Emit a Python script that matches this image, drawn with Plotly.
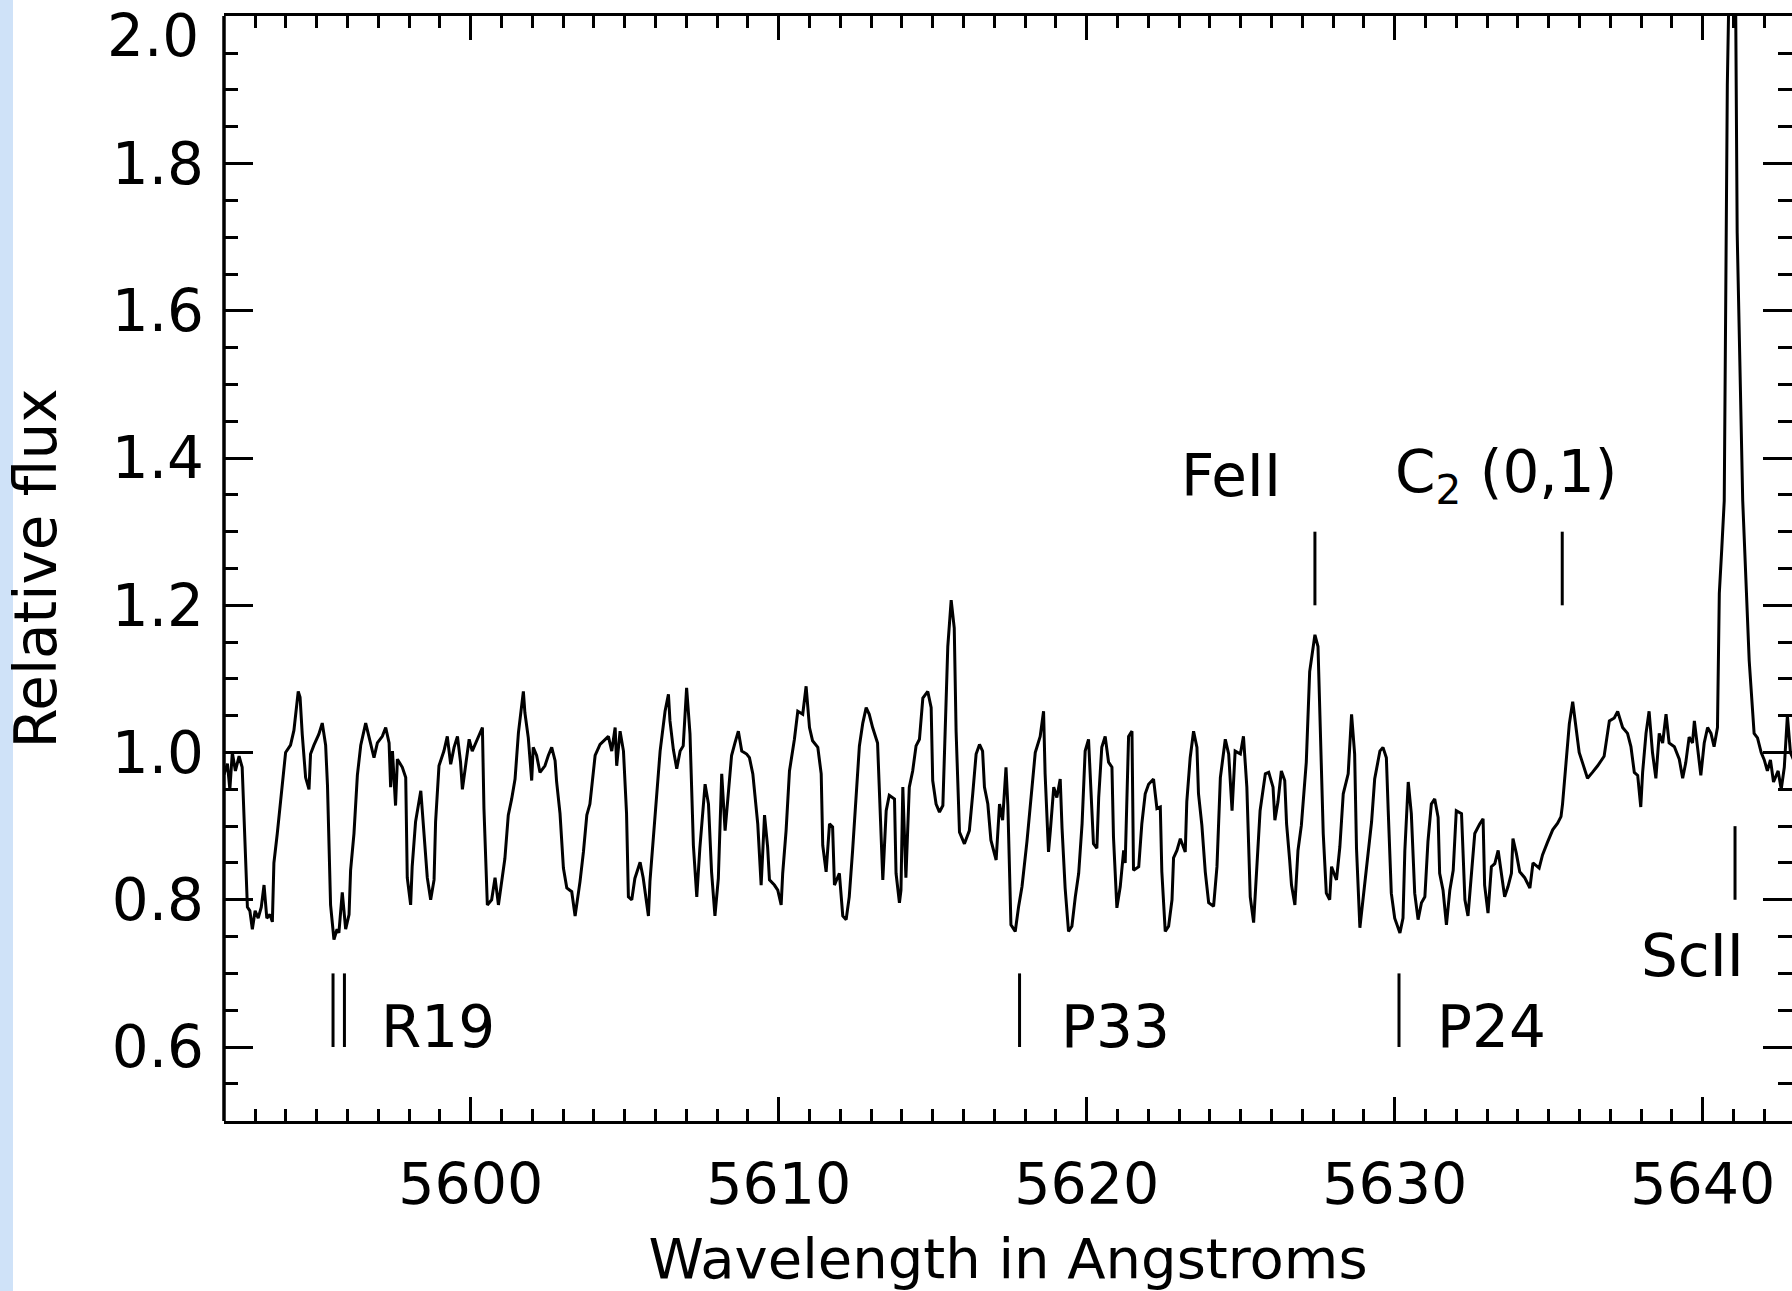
import plotly.graph_objects as go

# ---------------- data ----------------
wavelength = [
    5591.99, 5592.10, 5592.18, 5592.26, 5592.36, 5592.48, 5592.58, 5592.64, 5592.75, 5592.83,
    5592.91, 5593.00, 5593.10, 5593.20, 5593.29, 5593.38, 5593.48, 5593.56, 5593.61, 5593.72,
    5593.88, 5593.99, 5594.15, 5594.26, 5594.40, 5594.46, 5594.53, 5594.64, 5594.75, 5594.80,
    5594.91, 5595.07, 5595.18, 5595.29, 5595.35, 5595.45, 5595.56, 5595.66, 5595.72, 5595.83,
    5595.94, 5596.05, 5596.10, 5596.21, 5596.32, 5596.43, 5596.59, 5596.70, 5596.86, 5596.97,
    5597.13, 5597.24, 5597.35, 5597.40, 5597.46, 5597.56, 5597.62, 5597.78, 5597.89, 5597.94,
    5598.05, 5598.10, 5598.21, 5598.38, 5598.48, 5598.59, 5598.70, 5598.81, 5598.86, 5598.97,
    5599.13, 5599.24, 5599.35, 5599.46, 5599.57, 5599.67, 5599.73, 5599.84, 5599.95, 5600.05,
    5600.22, 5600.38, 5600.43, 5600.54,
    5600.68, 5600.79, 5600.90, 5601.06, 5601.11, 5601.22, 5601.33, 5601.44, 5601.55, 5601.71,
    5601.76, 5601.87, 5601.98, 5602.03, 5602.14, 5602.25, 5602.41, 5602.52, 5602.63, 5602.74,
    5602.79, 5602.90, 5603.01, 5603.12, 5603.28, 5603.39, 5603.55, 5603.66, 5603.77, 5603.87,
    5604.04, 5604.20, 5604.31, 5604.47, 5604.58, 5604.69, 5604.74, 5604.85, 5604.96, 5605.06,
    5605.12, 5605.23, 5605.33, 5605.50, 5605.60, 5605.71, 5605.77, 5605.82, 5605.93, 5606.04,
    5606.15, 5606.31, 5606.42, 5606.47, 5606.58, 5606.69, 5606.80, 5606.90, 5607.01, 5607.12,
    5607.23, 5607.34, 5607.44, 5607.61, 5607.72, 5607.82, 5607.93, 5608.04, 5608.15, 5608.26,
    5608.37, 5608.47, 5608.58, 5608.69, 5608.80, 5608.96,
    5609.05, 5609.16, 5609.32, 5609.43, 5609.54, 5609.64, 5609.70, 5609.86, 5609.97, 5610.08,
    5610.13, 5610.24, 5610.35, 5610.51, 5610.62, 5610.78, 5610.89, 5611.00, 5611.10, 5611.27,
    5611.38, 5611.43, 5611.54, 5611.65, 5611.75, 5611.81, 5611.97, 5612.08, 5612.19, 5612.29,
    5612.40, 5612.51, 5612.62, 5612.73, 5612.84, 5612.94, 5613.05, 5613.21, 5613.27, 5613.38,
    5613.49, 5613.59, 5613.76, 5613.81, 5613.92, 5613.97, 5614.03, 5614.13, 5614.24, 5614.35,
    5614.46, 5614.57, 5614.68, 5614.84, 5614.95, 5615.00, 5615.11, 5615.22, 5615.33, 5615.38,
    5615.49, 5615.60, 5615.70, 5615.76, 5615.87, 5616.03, 5616.19, 5616.30, 5616.41, 5616.52,
    5616.62, 5616.68, 5616.79, 5616.89, 5617.06, 5617.17, 5617.27, 5617.38, 5617.44, 5617.54,
    5617.68, 5617.79, 5617.90, 5618.06, 5618.22, 5618.33, 5618.49, 5618.60, 5618.65, 5618.76,
    5618.82, 5618.93, 5619.03, 5619.14, 5619.20, 5619.30, 5619.41, 5619.52, 5619.63, 5619.74,
    5619.85, 5619.95, 5620.06, 5620.12, 5620.22, 5620.33, 5620.39, 5620.49, 5620.60, 5620.71,
    5620.82, 5620.87, 5620.98, 5621.09, 5621.20, 5621.25, 5621.36, 5621.47, 5621.52, 5621.69,
    5621.79, 5621.90, 5622.01, 5622.17, 5622.28, 5622.39, 5622.44, 5622.55, 5622.66, 5622.77,
    5622.82, 5622.93, 5623.04, 5623.20, 5623.25, 5623.36, 5623.47, 5623.58, 5623.63, 5623.74,
    5623.85, 5623.96, 5624.12, 5624.23, 5624.34, 5624.50, 5624.61, 5624.72, 5624.82, 5624.99,
    5625.09, 5625.20, 5625.31, 5625.42, 5625.53, 5625.63, 5625.80, 5625.91,
    5626.05, 5626.11, 5626.21, 5626.32, 5626.43, 5626.49, 5626.59, 5626.65, 5626.76, 5626.86,
    5626.97, 5627.03, 5627.13, 5627.24, 5627.41, 5627.51, 5627.57, 5627.68, 5627.78, 5627.89,
    5627.95, 5628.11, 5628.22, 5628.33, 5628.49, 5628.60, 5628.70, 5628.76, 5628.87, 5628.97,
    5629.08, 5629.25, 5629.35, 5629.52, 5629.62, 5629.73, 5629.79, 5629.89, 5630.00, 5630.17,
    5630.27, 5630.33, 5630.44, 5630.54, 5630.65, 5630.76, 5630.87, 5630.98, 5631.08, 5631.19,
    5631.30, 5631.41, 5631.46, 5631.57, 5631.68, 5631.79, 5631.90, 5632.00, 5632.17, 5632.28,
    5632.38, 5632.49, 5632.60, 5632.76, 5632.87, 5632.92, 5633.03, 5633.14, 5633.25, 5633.36,
    5633.47, 5633.57, 5633.68, 5633.79, 5633.84, 5633.95, 5634.06, 5634.22, 5634.39, 5634.49,
    5634.69, 5634.80, 5634.96, 5635.13, 5635.29, 5635.40, 5635.45, 5635.56, 5635.67, 5635.78,
    5635.88, 5635.99, 5636.10, 5636.26, 5636.42, 5636.59, 5636.80, 5636.97, 5637.13, 5637.24,
    5637.40, 5637.56, 5637.67, 5637.78, 5637.89, 5637.99, 5638.05, 5638.16, 5638.26, 5638.37,
    5638.48, 5638.59, 5638.70, 5638.81, 5638.91, 5639.08, 5639.24, 5639.35, 5639.45, 5639.56,
    5639.67, 5639.73, 5639.83, 5639.94, 5640.05, 5640.16, 5640.27, 5640.37, 5640.48, 5640.54,
    5640.62, 5640.70, 5640.80, 5640.90, 5641.05, 5641.12, 5641.30, 5641.40, 5641.51, 5641.67,
    5641.78, 5641.90, 5642.00, 5642.10, 5642.20, 5642.30, 5642.45, 5642.55, 5642.65, 5642.75,
    5642.85, 5642.95,
]

relative_flux = [
    0.970, 0.985, 0.950, 1.000, 0.975, 0.995, 0.980, 0.920, 0.790, 0.785,
    0.760, 0.785, 0.775, 0.790, 0.820, 0.775, 0.780, 0.770, 0.850, 0.890,
    0.960, 1.000, 1.010, 1.030, 1.083, 1.075, 1.025, 0.966, 0.950, 0.998,
    1.010, 1.025, 1.040, 1.010, 0.955, 0.793, 0.746, 0.760, 0.755, 0.810,
    0.760, 0.780, 0.840, 0.890, 0.969, 1.010, 1.040, 1.020, 0.993, 1.013,
    1.022, 1.034, 1.013, 0.953, 1.002, 0.928, 0.991, 0.980, 0.966, 0.830,
    0.793, 0.845, 0.906, 0.948, 0.890, 0.830, 0.800, 0.827, 0.906, 0.982,
    1.002, 1.022, 0.984, 1.007, 1.022, 0.987, 0.950, 0.987, 1.018, 1.002,
    1.018, 1.034, 0.924, 0.793,
    0.800, 0.830, 0.793, 0.836, 0.856, 0.915, 0.937, 0.964, 1.027, 1.083,
    1.054, 1.020, 0.962, 1.007, 0.996, 0.973, 0.982, 0.996, 1.007, 0.989,
    0.960, 0.917, 0.843, 0.816, 0.811, 0.778, 0.825, 0.865, 0.915, 0.930,
    0.996, 1.011, 1.016, 1.022, 1.002, 1.034, 0.982, 1.029, 1.002, 0.917,
    0.804, 0.800, 0.829, 0.851, 0.830, 0.800, 0.778, 0.825, 0.883, 0.953,
    1.002, 1.056, 1.079, 1.043, 1.004, 0.978, 1.002, 1.009, 1.088, 1.025,
    0.874, 0.804, 0.870, 0.957, 0.930, 0.838, 0.778, 0.829, 0.971, 0.894,
    0.944, 0.996, 1.013, 1.029, 1.002, 0.998,
    0.993, 0.971, 0.903, 0.820, 0.915, 0.872, 0.827, 0.820, 0.813, 0.793,
    0.836, 0.894, 0.975, 1.018, 1.056, 1.052, 1.090, 1.034, 1.016, 1.007,
    0.971, 0.874, 0.838, 0.903, 0.899, 0.820, 0.836, 0.778, 0.773, 0.804,
    0.867, 0.944, 1.009, 1.040, 1.061, 1.052, 1.034, 1.013, 0.944, 0.827,
    0.921, 0.942, 0.937, 0.836, 0.796, 0.813, 0.953, 0.830, 0.953, 0.975,
    1.009, 1.018, 1.074, 1.083, 1.061, 0.962, 0.930, 0.919, 0.928, 0.998,
    1.144, 1.207, 1.169, 1.029, 0.892, 0.876, 0.894, 0.944, 0.998, 1.011,
    1.002, 0.953, 0.930, 0.881, 0.854, 0.930, 0.908, 0.980, 0.928, 0.766,
    0.757, 0.791, 0.818, 0.879, 0.957, 1.000, 1.022, 1.056, 0.971, 0.865,
    0.894, 0.953, 0.939, 0.964, 0.897, 0.816, 0.757, 0.764, 0.804, 0.836,
    0.903, 1.002, 1.018, 0.971, 0.876, 0.870, 0.939, 1.007, 1.022, 0.987,
    0.980, 0.885, 0.789, 0.818, 0.867, 0.850, 1.022, 1.029, 0.840, 0.845,
    0.903, 0.944, 0.957, 0.964, 0.924, 0.926, 0.838, 0.757, 0.764, 0.800,
    0.857, 0.867, 0.883, 0.865, 0.933, 0.993, 1.029, 1.007, 0.944, 0.901,
    0.838, 0.796, 0.791, 0.845, 0.966, 1.018, 0.998, 0.921, 1.002, 0.998,
    1.022, 0.953, 0.804, 0.769, 0.850, 0.921, 0.971, 0.973,
    0.953, 0.908, 0.933, 0.975, 0.962, 0.903, 0.854, 0.820, 0.793, 0.867,
    0.901, 0.939, 0.987, 1.110, 1.160, 1.144, 1.056, 0.890, 0.809, 0.800,
    0.845, 0.827, 0.872, 0.944, 0.971, 1.052, 0.998, 0.870, 0.762, 0.802,
    0.840, 0.906, 0.964, 1.002, 1.007, 0.993, 0.921, 0.809, 0.775, 0.755,
    0.775, 0.867, 0.960, 0.917, 0.809, 0.773, 0.796, 0.804, 0.879, 0.930,
    0.937, 0.912, 0.836, 0.813, 0.766, 0.813, 0.840, 0.921, 0.917, 0.800,
    0.778, 0.836, 0.890, 0.903, 0.910, 0.820, 0.782, 0.845, 0.849, 0.867,
    0.830, 0.804, 0.818, 0.836, 0.883, 0.863, 0.838, 0.830, 0.816, 0.850,
    0.843, 0.861, 0.878, 0.895, 0.904, 0.913, 0.930, 0.986, 1.039, 1.069,
    1.034, 1.000, 0.986, 0.965, 0.973, 0.982, 0.995, 1.043, 1.047, 1.056,
    1.034, 1.026, 1.008, 0.973, 0.969, 0.926, 0.973, 1.026, 1.056, 1.000,
    0.965, 1.026, 1.013, 1.052, 1.013, 1.008, 0.991, 0.965, 0.986, 1.021,
    1.013, 1.043, 1.008, 0.969, 1.013, 1.034, 1.026, 1.008, 1.034, 1.216,
    1.277, 1.342, 1.906, 2.150, 2.150, 1.706, 1.342, 1.234, 1.125, 1.026,
    1.020, 1.000, 0.990, 0.975, 0.990, 0.960, 0.975, 0.950, 0.980, 1.050,
    1.000, 0.990,
]

# identified features: label, wavelengths of the tick marks, flux span of the tick marks
feature_labels = ["R19", "P33", "P24", "ScII", "FeII", "C<sub>2</sub> (0,1)"]
feature_wavelengths = [[5595.53, 5595.90], [5617.82], [5630.14], [5641.05], [5627.41], [5635.44]]
feature_flux_low = [0.60, 0.60, 0.60, 0.80, 1.20, 1.20]
feature_flux_high = [0.70, 0.70, 0.70, 0.90, 1.30, 1.30]

x_tick_values = [5600, 5610, 5620, 5630, 5640]
y_tick_values = [0.6, 0.8, 1.0, 1.2, 1.4, 1.6, 1.8, 2.0]
y_tick_labels = ["0.6", "0.8", "1.0", "1.2", "1.4", "1.6", "1.8", "2.0"]

# ---------------- figure ----------------
FONT = "DejaVu Sans"
W, H = 1792, 1291
ML, MR, MT, MB = 224, 0, 16, 170
plot_w = W - ML - MR
plot_h = H - MT - MB

fig = go.Figure()
fig.add_trace(go.Scatter(
    x=wavelength, y=relative_flux, mode="lines",
    line=dict(color="black", width=3),
    showlegend=False, hoverinfo="x+y",
))

shapes = []
# light-blue strip at the left edge of the page
shapes.append(dict(type="rect", xref="paper", yref="paper",
                   x0=-ML / plot_w, x1=(13 - ML) / plot_w,
                   y0=-MB / plot_h, y1=1 + MT / plot_h,
                   fillcolor="#CFE2F8", line=dict(width=0), layer="below"))
# left frame line (the right frame edge lies just outside the picture)
shapes.append(dict(type="line", xref="paper", yref="paper", x0=0, x1=0, y0=0, y1=1,
                   line=dict(color="black", width=3.5)))
for wls, lo, hi in zip(feature_wavelengths, feature_flux_low, feature_flux_high):
    for wl in wls:
        shapes.append(dict(type="line", xref="x", yref="y", x0=wl, x1=wl, y0=lo, y1=hi,
                           line=dict(color="black", width=3)))

# label positions (left edge wavelength, centre flux)
label_pos = {
    "R19": (5597.02, 0.627),
    "P33": (5619.11, 0.627),
    "P24": (5631.30, 0.627),
    "ScII": (5637.93, 0.724),
    "FeII": (5623.00, 1.376),
    "C<sub>2</sub> (0,1)": (5629.96, 1.376),
}
annotations = []
for lab in feature_labels:
    lx, ly = label_pos[lab]
    annotations.append(dict(x=lx, y=ly, xref="x", yref="y", text=lab, showarrow=False,
                            xanchor="left", yanchor="middle",
                            font=dict(family=FONT, size=58, color="black")))

# the top tick label sits on the frame edge; in the reference it is pushed down to stay
# inside the picture, so it is drawn as a separate text at the same place
annotations.append(dict(x=0, y=1 - 20 / plot_h, xref="paper", yref="paper",
                        text=y_tick_labels[-1], showarrow=False,
                        xanchor="right", yanchor="middle", xshift=-23,
                        font=dict(family=FONT, size=58, color="black")))

fig.update_layout(
    width=W, height=H,
    margin=dict(l=ML, r=MR, t=MT, b=MB, pad=0),
    paper_bgcolor="white", plot_bgcolor="white",
    shapes=shapes, annotations=annotations,
    font=dict(family=FONT, size=58, color="black"),
)

fig.update_xaxes(
    range=[5591.99, 5642.90],
    tickmode="array", tickvals=x_tick_values, ticktext=[str(v) for v in x_tick_values],
    ticks="inside", ticklen=24, tickwidth=3, tickcolor="black",
    minor=dict(dtick=1, tick0=5600, ticks="inside", ticklen=12, tickwidth=3, tickcolor="black"),
    showline=True, linecolor="black", linewidth=3, mirror="allticks",
    showgrid=False, zeroline=False,
    tickfont=dict(family=FONT, size=57, color="black"),
    ticklabelstandoff=12,
    title=dict(text="Wavelength in Angstroms", font=dict(family=FONT, size=56, color="black"),
               standoff=24),
)
fig.update_yaxes(
    range=[0.4995, 2.0005],
    tickmode="array", tickvals=y_tick_values[:-1], ticktext=y_tick_labels[:-1],
    ticks="inside", ticklen=29, tickwidth=3, tickcolor="black",
    minor=dict(dtick=0.05, tick0=0.5, ticks="inside", ticklen=14, tickwidth=3, tickcolor="black"),
    showline=False, mirror="allticks",
    showgrid=False, zeroline=False,
    tickfont=dict(family=FONT, size=58, color="black"),
    ticklabelstandoff=19,
    title=dict(text="Relative flux", font=dict(family=FONT, size=58, color="black"),
               standoff=36),
)

fig.write_html("out.html")
